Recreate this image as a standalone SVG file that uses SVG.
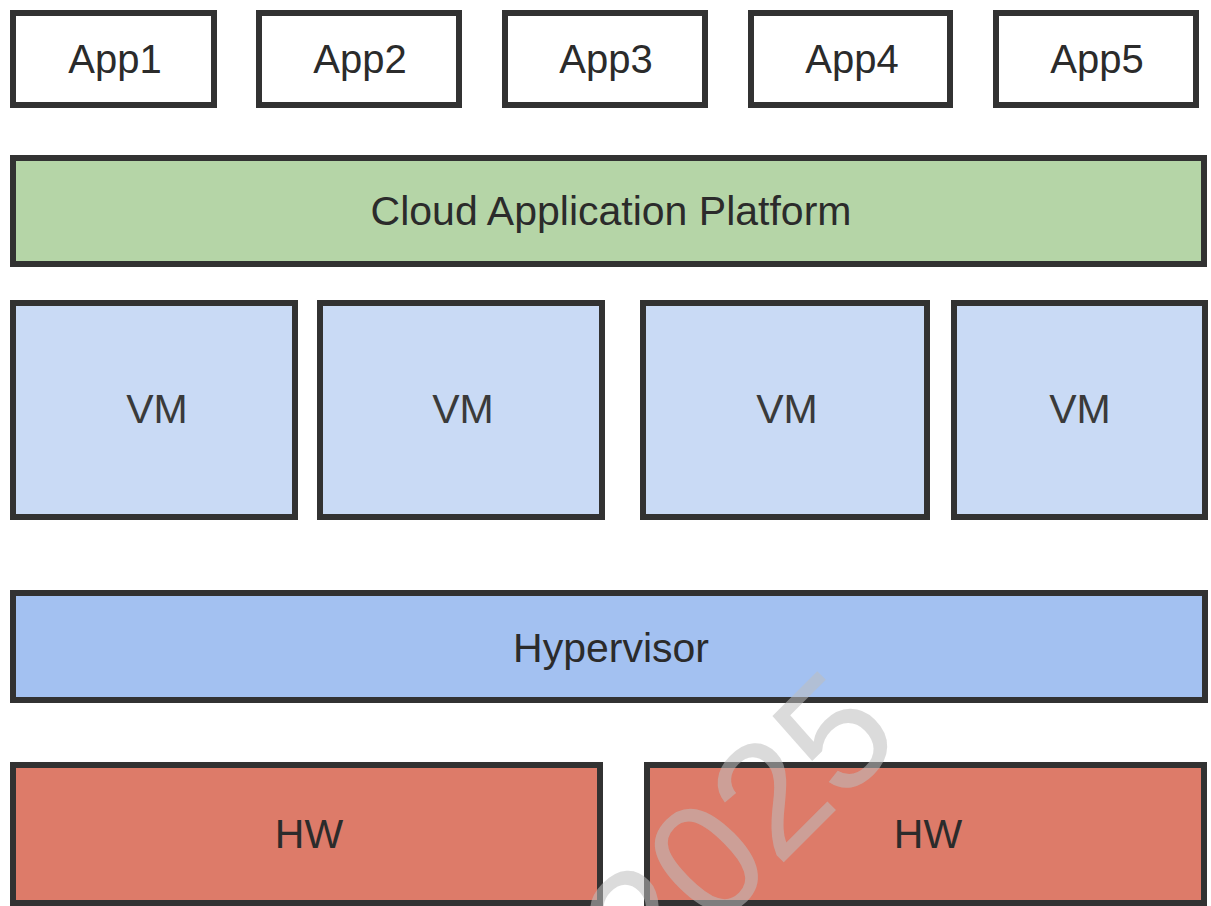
<svg xmlns="http://www.w3.org/2000/svg" width="1211" height="906" viewBox="0 0 1211 906">
  <style>
    .box { stroke: #323232; stroke-width: 6; }
    .app { fill: #ffffff; }
    .cap { fill: #b5d5a7; }
    .vm { fill: #c9daf5; }
    .hyp { fill: #a3c1f1; }
    .hw { fill: #dd7b69; }
    .lbl { font-family: "Liberation Sans", Arial, sans-serif; font-size: 41px; fill: #2b2b2b; text-anchor: middle; }
    .mark { font-family: "Liberation Sans", Arial, sans-serif; font-size: 162px; fill: #bebebe; fill-opacity: 0.55; text-anchor: middle; }
  </style>
  <rect width="1211" height="906" fill="#ffffff"/>

  <!-- application row -->
  <g id="app1"><rect class="box app" x="13" y="13" width="201" height="92"/><text class="lbl" x="115" y="73" style="font-size:40px">App1</text></g>
  <g id="app2"><rect class="box app" x="259" y="13" width="200" height="92"/><text class="lbl" x="360" y="73" style="font-size:40px">App2</text></g>
  <g id="app3"><rect class="box app" x="505" y="13" width="200" height="92"/><text class="lbl" x="606" y="73" style="font-size:40px">App3</text></g>
  <g id="app4"><rect class="box app" x="751" y="13" width="199" height="92"/><text class="lbl" x="852" y="73" style="font-size:40px">App4</text></g>
  <g id="app5"><rect class="box app" x="996" y="13" width="200" height="92"/><text class="lbl" x="1097" y="73" style="font-size:40px">App5</text></g>

  <!-- platform layer -->
  <g id="platform"><rect class="box cap" x="13" y="158" width="1191" height="106"/><text class="lbl" x="611" y="225">Cloud Application Platform</text></g>

  <!-- virtual machines -->
  <g id="vm1"><rect class="box vm" x="13" y="303" width="282" height="214"/><text class="lbl" x="157" y="423" style="fill:#3a3a3a">VM</text></g>
  <g id="vm2"><rect class="box vm" x="320" y="303" width="282" height="214"/><text class="lbl" x="463" y="423" style="fill:#3a3a3a">VM</text></g>
  <g id="vm3"><rect class="box vm" x="643" y="303" width="284" height="214"/><text class="lbl" x="787" y="423" style="fill:#3a3a3a">VM</text></g>
  <g id="vm4"><rect class="box vm" x="954" y="303" width="251" height="214"/><text class="lbl" x="1080" y="423" style="fill:#3a3a3a">VM</text></g>

  <!-- hypervisor -->
  <g id="hypervisor"><rect class="box hyp" x="13" y="593" width="1192" height="107"/><text class="lbl" x="611" y="662">Hypervisor</text></g>

  <!-- hardware -->
  <g id="hw1"><rect class="box hw" x="13" y="765" width="587" height="138"/><text class="lbl" x="309" y="848">HW</text></g>
  <g id="hw2"><rect class="box hw" x="647" y="765" width="557" height="138"/><text class="lbl" x="928" y="848">HW</text></g>

  <g id="connectors"/>

  <!-- year stamp -->
  <text class="mark" transform="translate(737 827) rotate(-45)" x="0" y="58">2025</text>
</svg>
